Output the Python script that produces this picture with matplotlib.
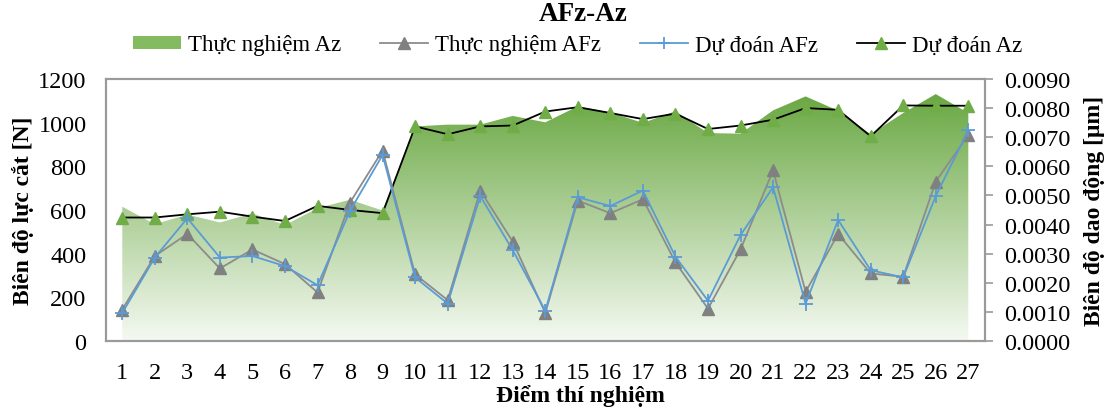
import numpy as np
import matplotlib.pyplot as plt
from matplotlib.colors import LinearSegmentedColormap
from matplotlib.patches import Patch
from matplotlib.lines import Line2D

plt.rcParams['font.family'] = ['Liberation Serif', 'DejaVu Serif']

# data
points = list(range(1, 28))
# left axis: force amplitude [N]
afz_measured = [144, 389, 490, 332, 419, 352, 222, 634, 872, 305, 187, 689, 455, 128,
                643, 585, 649, 360, 148, 419, 781, 225, 490, 309, 294, 730, 944]
afz_predicted = [128, 382, 562, 382, 389, 343, 255, 596, 852, 291, 171, 664, 416, 138,
                 658, 618, 689, 386, 184, 485, 704, 171, 554, 324, 291, 664, 964]
# right axis: vibration amplitude [um]
az_measured = [0.00461, 0.00401, 0.00434, 0.00407, 0.00438, 0.00398, 0.00456, 0.00485, 0.00448,
               0.00737, 0.00743, 0.00743, 0.00773, 0.00751, 0.00806, 0.00785, 0.00749, 0.00789,
               0.00714, 0.00712, 0.00792, 0.00840, 0.00791, 0.00710, 0.00783, 0.00848, 0.00783]
az_predicted = [0.00424, 0.00424, 0.00435, 0.00444, 0.00427, 0.00412, 0.00464, 0.00450, 0.00439,
                0.00737, 0.00710, 0.00737, 0.00740, 0.00788, 0.00803, 0.00783, 0.00762, 0.00781,
                0.00728, 0.00740, 0.00760, 0.00800, 0.00794, 0.00703, 0.00809, 0.00808, 0.00808]

FS = 17.5
spine_col = '#9a9a9a'

fig = plt.figure(figsize=(11.1, 4.1), dpi=100)
ax = fig.add_axes([0.0955, 0.166, 0.7915, 0.639])
ax2 = ax.twinx()
ax.set_zorder(2)
ax2.set_zorder(1)
ax.patch.set_visible(False)

# gradient area (Thuc nghiem Az) on right axis
poly = ax2.fill_between(points, az_measured, 0, facecolor='none', edgecolor='none')
cmap = LinearSegmentedColormap.from_list('gr', ['#f5f9f2', '#6aa843'])
grad = np.linspace(0, 1, 256).reshape(-1, 1)
img = ax2.imshow(grad, cmap=cmap, origin='lower', aspect='auto',
                 extent=[points[0], points[-1], 0, max(az_measured)], zorder=1)
img.set_clip_path(poly.get_paths()[0], transform=ax2.transData)

ax2.plot(points, az_predicted, color='black', lw=1.3, marker='^', ms=9,
         mfc='#70ad47', mec='#70ad47', zorder=3)

ax.plot(points, afz_measured, color='#8c8c8c', lw=1.3, marker='^', ms=9,
        mfc='#808080', mec='#808080', zorder=3)
ax.plot(points, afz_predicted, color='#5b9bd5', lw=1.3, marker='+', ms=10,
        mew=1.3, zorder=4)

ax.set_xlim(0.5, 27.5)
ax.set_ylim(0, 1200)
ax.set_yticks(range(0, 1201, 200))
ax2.set_xlim(0.5, 27.5)
ax2.set_ylim(0, 0.009)
ax2.set_yticks(np.arange(0, 0.00901, 0.001))
ax2.set_yticklabels([f'{v:.4f}' for v in np.arange(0, 0.00901, 0.001)])
ax.set_xticks(points)
ax.set_xticklabels([str(p) for p in points])

ax.tick_params(axis='x', length=0, labelsize=FS, pad=15)
ax.tick_params(axis='y', length=0, labelsize=FS, pad=14)
ax2.tick_params(axis='y', length=6, width=1.2, color=spine_col, labelsize=FS, pad=8)
for a in (ax, ax2):
    for s in a.spines.values():
        s.set_color(spine_col)
        s.set_linewidth(1.5)

ax.set_xlabel('Điểm thí nghiệm', fontsize=17, fontweight='bold')
ax.xaxis.set_label_coords(0.54, -0.163)
ax.set_ylabel('Biên độ lực cắt [N]', fontsize=17, fontweight='bold', labelpad=3)
ax2.set_ylabel('Biên độ dao động [μm]', fontsize=17, fontweight='bold', labelpad=10)

fig.suptitle('AFz-Az', x=0.525, y=0.995, fontsize=19.5, fontweight='bold')

handles = [
    Patch(facecolor='#84bb60', edgecolor='none'),
    Line2D([], [], color='#8c8c8c', lw=1.3, marker='^', ms=8, mfc='#808080', mec='#808080'),
    Line2D([], [], color='#5b9bd5', lw=1.3, marker='+', ms=9, mew=1.3),
    Line2D([], [], color='black', lw=1.3, marker='^', ms=8, mfc='#70ad47', mec='#70ad47'),
]
labels = ['Thực nghiệm Az', 'Thực nghiệm AFz', 'Dự đoán AFz', 'Dự đoán Az']
fig.legend(handles, labels, loc='center', bbox_to_anchor=(0.52, 0.888), ncol=4,
           frameon=False, fontsize=16.5, handlelength=2.1, handleheight=0.5,
           handletextpad=0.3, columnspacing=1.7, borderpad=0)

fig.savefig('out.png', dpi=100)
